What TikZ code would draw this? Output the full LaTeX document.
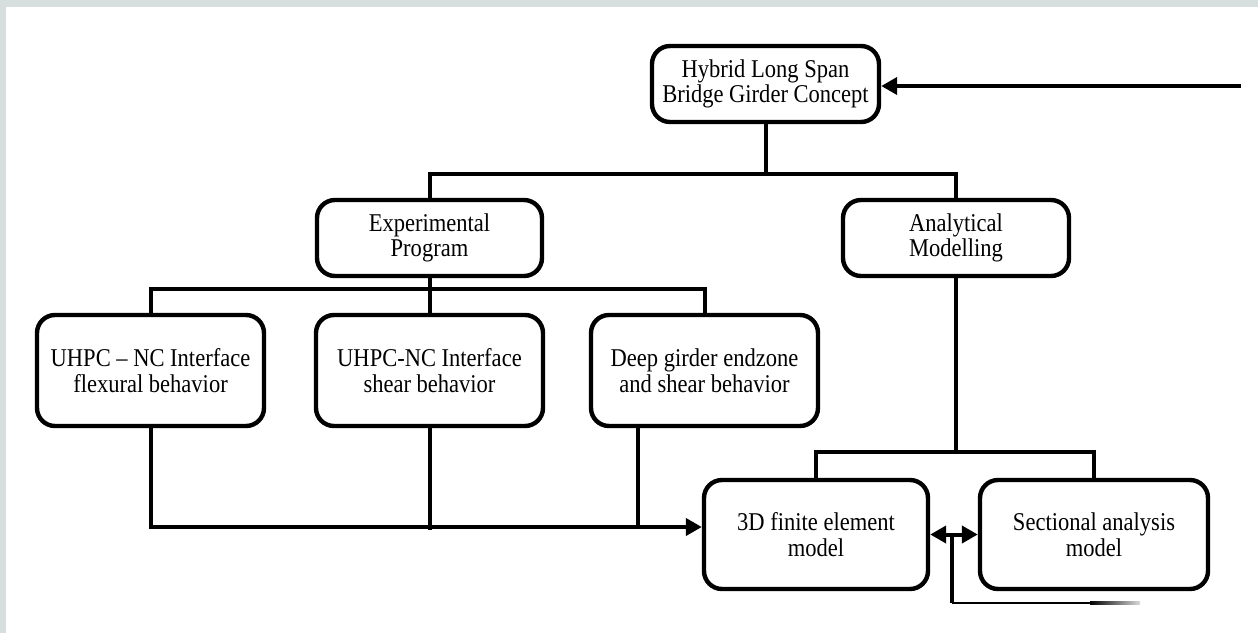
\documentclass[tikz,border=0pt]{standalone}
\usepackage{fontspec}
\setmainfont[FakeStretch=0.88]{Liberation Serif}
\usetikzlibrary{arrows.meta}
\definecolor{framegray}{RGB}{214,223,222}
\tikzset{
	box/.style={draw,line width=2.2pt,rounded corners=9pt,align=center,fill=white,inner sep=2pt},
	arr/.style={-{Triangle[length=8pt,width=8.5pt]}},
	dblarr/.style={{Triangle[length=8pt,width=8.5pt]}-{Triangle[length=8pt,width=8.5pt]}},
}
\begin{document}
\begin{tikzpicture}[x=0.5pt,y=-0.5pt,line width=2pt,font=\fontsize{12.8}{12.8}\selectfont]
	\useasboundingbox (0,0) rectangle (1258,633);
	\fill[framegray] (0,0) rectangle (1258,633);
	\fill[white] (6,7) rectangle (1258,633);
	% boxes
	\node[box,minimum width=113.5pt,minimum height=38pt] (top) at (765.5,84) {Hybrid Long Span\\Bridge Girder Concept};
	\node[box,minimum width=112.5pt,minimum height=38pt] (exp) at (429.5,238) {Experimental\\Program};
	\node[box,minimum width=113pt,minimum height=38pt] (ana) at (956,238) {Analytical\\Modelling};
	\foreach \n/\x/\t in {b1/150.5/{UHPC – NC Interface\\flexural behavior},
		b2/429.5/{UHPC-NC Interface\\shear behavior},
		b3/704.5/{Deep girder endzone\\and shear behavior}}
	\node[box,minimum width=113.5pt,minimum height=55.5pt] (\n) at (\x,370.5) {\t};
	\node[box,minimum width=112pt,minimum height=54.5pt] (fe) at (816,534.5) {3D finite element\\model};
	\node[box,minimum width=114pt,minimum height=54.5pt] (sec) at (1094,534.5) {Sectional analysis\\model};
	% connectors
	\coordinate (in) at (1241,86);
	\draw[arr] (in) -- (in -| top.east);
	\coordinate (j1) at (765.5,174);
	\draw (top.south) -- (j1);
	\draw (exp.north) |- (j1) -| (ana.north);
	\coordinate (j2) at (429.5,289);
	\draw (exp.south) -- (b2.north);
	\draw (b1.north) |- (j2) -| (b3.north);
	\coordinate (j3) at (702,527);
	\draw[arr] (b1.south) |- (j3 -| fe.west);
	\draw (b2.south) -- (429.5,530);
	\coordinate (d3) at (638,527);
	\draw (b3.south -| d3) -- (d3);
	\coordinate (j4) at (956,452);
	\draw (ana.south) -- (j4);
	\draw (fe.north) |- (j4) -| (sec.north);
	\draw[dblarr] (fe.east) -- (sec.west);
	\coordinate (fb) at (952,603);
	\draw (fe.east -| fb) -- (fb);
	\draw[line width=1.2pt] (fb) -- (1092,603);
	\shade[left color=black,right color=black!15] (1090,601.8) rectangle (1140,604.2);
\end{tikzpicture}
\end{document}
